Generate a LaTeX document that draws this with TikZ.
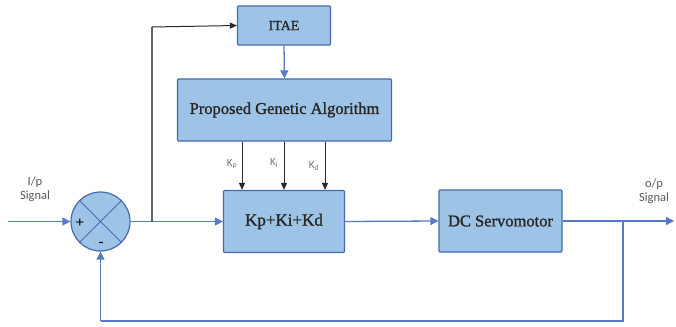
\documentclass[tikz,border=0pt]{standalone}
\usepackage{fontspec}
\setmainfont{Liberation Serif}
\newfontfamily\blockfont[FakeBold=1.2]{Liberation Serif}
\newfontfamily\labelfont{Carlito}
\usetikzlibrary{arrows.meta,calc}
\definecolor{boxfill}{RGB}{157,195,230}
\definecolor{boxline}{RGB}{70,105,175}
\definecolor{wire}{RGB}{88,122,196}
\definecolor{kwire}{RGB}{40,40,40}
\tikzset{
  blockbox/.style={draw=boxline, fill=boxfill, line width=1.2pt, rounded corners=1pt, inner sep=0pt, text=black!85},
  wireline/.style={draw=wire, line width=1.3pt},
  warrow/.style={wireline, -{Triangle[length=8pt,width=8pt]}},
  karrow/.style={draw=kwire, line width=1pt, -{Triangle[length=7pt,width=6pt]}},
  smalllab/.style={font=\labelfont\fontsize{12.5}{14}\selectfont, text=black!65, align=center, inner sep=0pt},
  klab/.style={font=\labelfont\fontsize{11}{11}\selectfont, text=black!55, inner sep=0pt},
}
\begin{document}
\begin{tikzpicture}[x=1pt,y=-1pt]
\useasboundingbox (0,0) rectangle (676,326);
% blocks
\node[blockbox, minimum width=93pt, minimum height=39pt, font=\blockfont\fontsize{14}{15}\selectfont] (itae) at (284,25.5) {ITAE};
\node[blockbox, minimum width=214pt, minimum height=62pt, font=\blockfont\fontsize{16.5}{18}\selectfont] (ga) at (284.5,110) {Proposed Genetic Algorithm};
\node[blockbox, minimum width=121pt, minimum height=62pt, font=\blockfont\fontsize{17}{18}\selectfont] (pid) at (284,221.5) {Kp+Ki+Kd};
\node[blockbox, minimum width=123pt, minimum height=62pt, font=\blockfont\fontsize{16.5}{18}\selectfont] (dc) at (500.5,221) {DC Servomotor};
% summer
\node[circle, draw=boxline, fill=boxfill, line width=1.2pt, minimum size=59pt, inner sep=0pt] (sum) at (100.5,221.5) {};
\draw[draw=boxline, line width=1pt] (sum.north west) -- (sum.south east);
\draw[draw=boxline, line width=1pt] (sum.north east) -- (sum.south west);
\node[font=\fontsize{15}{15}\selectfont\bfseries, inner sep=0pt] (plus) at (80,223) {+};
\node[font=\fontsize{15}{15}\selectfont\bfseries, inner sep=0pt] (minus) at (101,244) {-};
% coordinates
\coordinate (inp) at (8,221.5);
\coordinate (br1) at (152,221.5);
\coordinate (top1) at (152,27);
\coordinate (outp) at (674,221);
\coordinate (br2) at (623,221);
\coordinate (fb1) at (623,321);
\coordinate (fb2) at (100.5,321);
% labels
\node[smalllab] (inlab) at (35,189) {I/p\\Signal};
\node[smalllab] (outlab) at (654,191) {o/p\\Signal};
% connectors
\draw[warrow] (inp) -- (sum.west);
\draw[wireline] (sum.east) -- (br1);
\draw[warrow] (br1) -- (pid.west);
\draw[draw=black!60, line width=1.1pt] (br1) -- (top1);
\draw[karrow] (top1) -- (itae.west);
\draw[warrow] (itae.south) -- (ga.north);
\draw[warrow] (pid.east) -- (dc.west);
\draw[warrow] (dc.east) -- (outp);
\draw[wireline] (br2) -- (fb1) -- (fb2);
\draw[warrow] (fb2) -- (sum.south);
% gain arrows
\draw[karrow] (ga.south -| 242,0) -- (pid.north -| 242,0);
\draw[karrow] (ga.south -| 284,0) -- (pid.north -| 284,0);
\draw[karrow] (ga.south -| 325,0) -- (pid.north -| 325,0);
\node[klab] (kp) at (232,164) {K\textsubscript{p}};
\node[klab] (ki) at (274,163) {K\textsubscript{i}};
\node[klab] (kd) at (314,166) {K\textsubscript{d}};
\end{tikzpicture}
\end{document}
